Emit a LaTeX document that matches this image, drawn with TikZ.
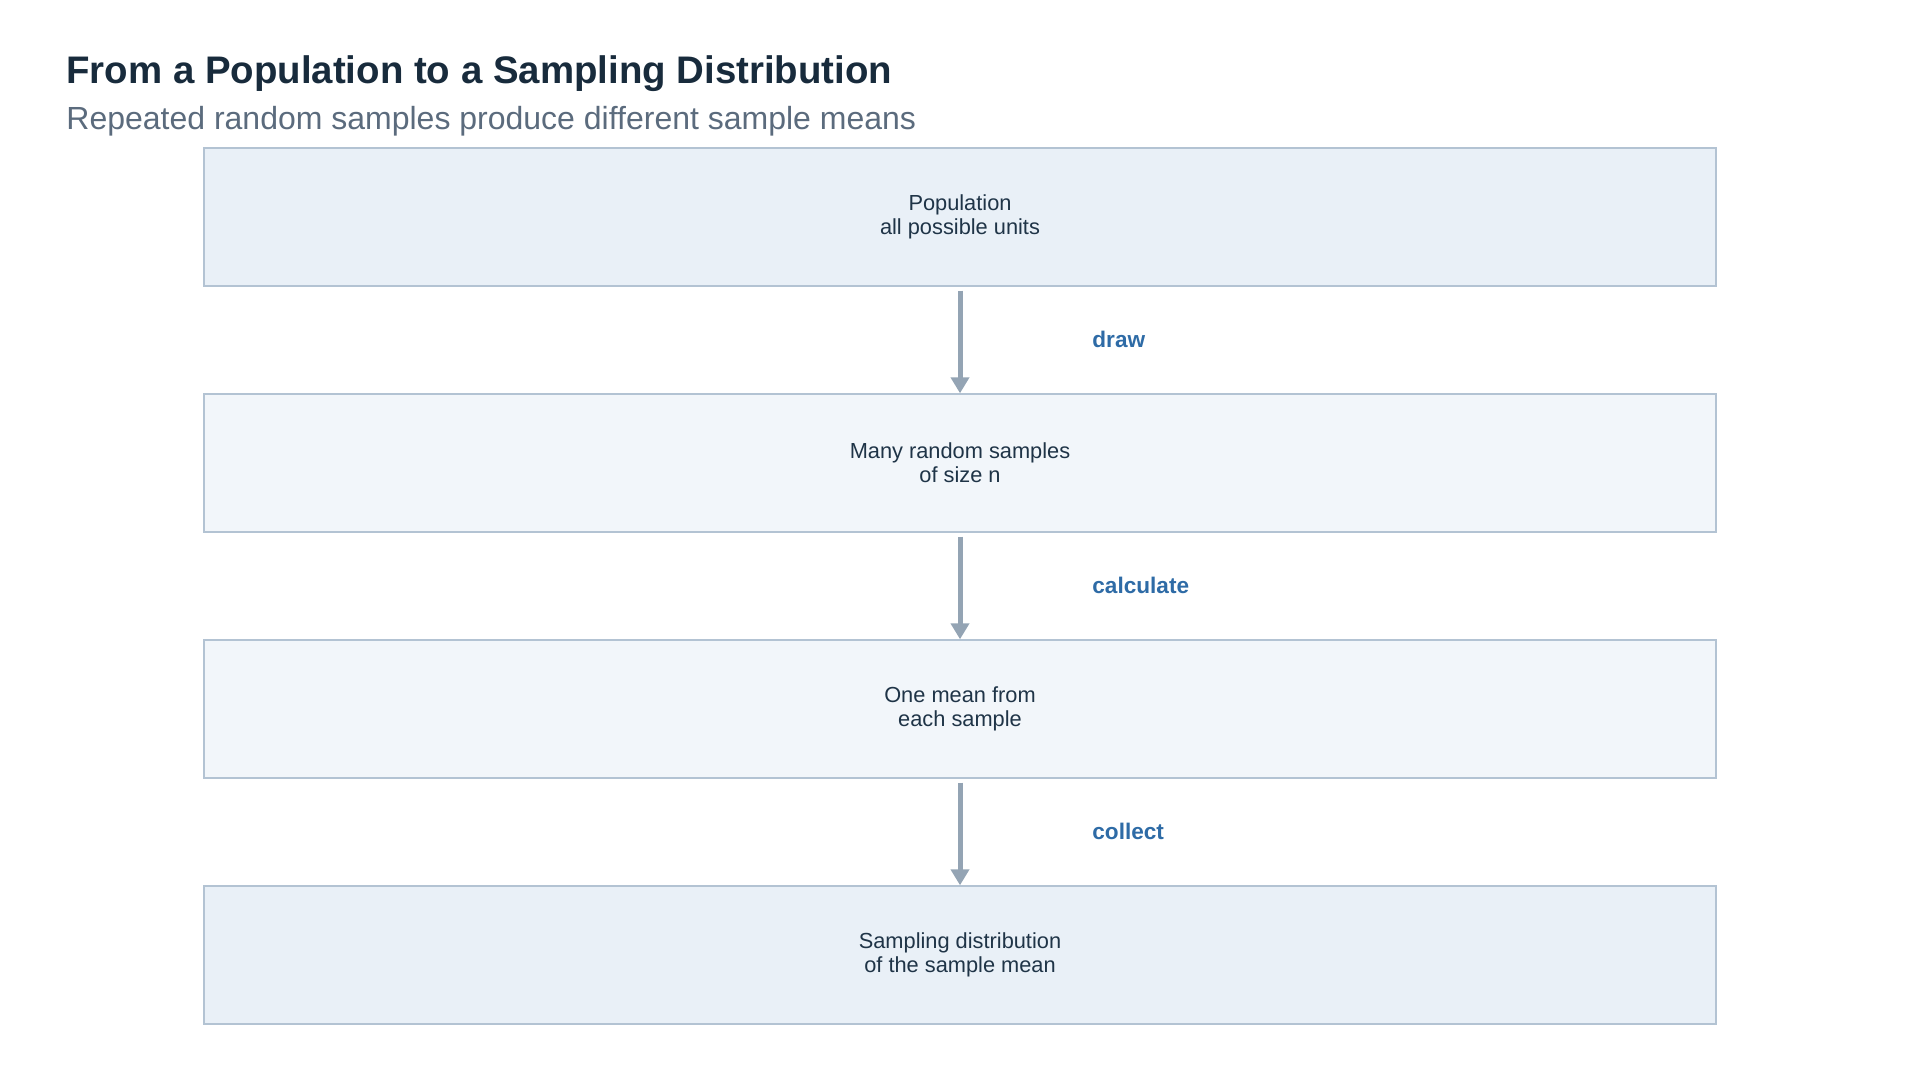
\documentclass[tikz,border=0pt]{standalone}
\usepackage{fontspec}
\setmainfont{Liberation Sans}
\usetikzlibrary{arrows.meta}
\definecolor{titlecol}{HTML}{182B3C}
\definecolor{subcol}{HTML}{5B6B7D}
\definecolor{textcol}{HTML}{1F3447}
\definecolor{fillA}{HTML}{E9F0F7}
\definecolor{fillB}{HTML}{F2F6FA}
\definecolor{bordercol}{HTML}{B3C3D3}
\definecolor{arrowcol}{HTML}{94A4B4}
\definecolor{labelcol}{HTML}{2E6BA6}
\tikzset{
  stagebox/.style={draw=bordercol, line width=0.7pt, minimum width=756pt, minimum height=69pt,
    inner sep=0pt, align=center, text=textcol,
    font=\fontsize{10.9pt}{12.2pt}\selectfont},
  flowarrow/.style={draw=arrowcol, line width=2.5pt, -{Triangle[length=8pt,width=9pt]}},
  steplabel/.style={anchor=base west, inner sep=0pt, text=labelcol,
    font=\fontsize{11.3pt}{13pt}\selectfont\bfseries}
}
\begin{document}
\begin{tikzpicture}[x=0.5pt,y=-0.5pt]
\useasboundingbox (0,0) rectangle (1920,1075);
\node[anchor=base west, inner sep=0pt, text=titlecol, font=\fontsize{19.2pt}{22pt}\selectfont\bfseries] (title) at (66,84) {From a Population to a Sampling Distribution};
\node[anchor=base west, inner sep=0pt, text=subcol, font=\fontsize{16pt}{18pt}\selectfont] (subtitle) at (66,130) {Repeated random samples produce different sample means};
\node[stagebox, fill=fillA] (b1) at (960,217) {Population\\all possible units};
\node[stagebox, fill=fillB] (b2) at (960,463) {Many random samples\\of size n};
\node[stagebox, fill=fillB] (b3) at (960,709) {One mean from\\each sample};
\node[stagebox, fill=fillA] (b4) at (960,955) {Sampling distribution\\of the sample mean};
\draw[flowarrow] ([yshift=-2pt]b1.south) -- (b2.north);
\draw[flowarrow] ([yshift=-2pt]b2.south) -- (b3.north);
\draw[flowarrow] ([yshift=-2pt]b3.south) -- (b4.north);
\node[steplabel] (l1) at (1092,347) {draw};
\node[steplabel] (l2) at (1092,593) {calculate};
\node[steplabel] (l3) at (1092,839) {collect};
\end{tikzpicture}
\end{document}
